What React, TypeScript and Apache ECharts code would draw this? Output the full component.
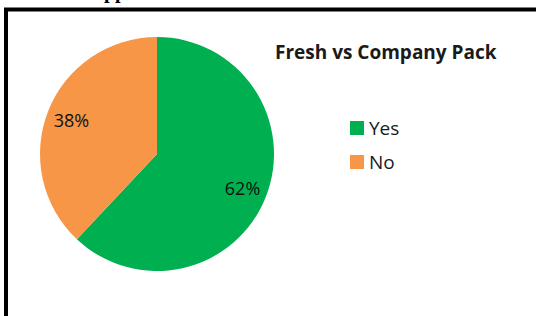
import React, { useEffect, useRef } from "react";
import * as echarts from "echarts";

const categories = ["Yes", "No"];
const values = [62, 38];
const colors = ["#00B050", "#F79646"];
const titleText = "Fresh vs Company Pack";

export default function App() {
  const ref = useRef<HTMLDivElement>(null);
  useEffect(() => {
    if (!ref.current) return;
    const chart = echarts.init(ref.current, null, { renderer: "svg" });
    const data = categories.map((name, i) => ({ name, value: values[i], itemStyle: { color: colors[i] } }));
    chart.setOption({
      animation: false,
      backgroundColor: "#ffffff",
      title: {
        text: titleText,
        left: 270,
        top: 37,
        textStyle: { fontFamily: "Open Sans", fontSize: 19, fontWeight: "bold", color: "#1a1a1a" },
      },
      legend: {
        orient: "vertical",
        left: 345,
        top: 113,
        icon: "rect",
        itemWidth: 14,
        itemHeight: 14,
        itemGap: 14,
        data: categories,
        textStyle: { fontFamily: "Open Sans", fontSize: 19, lineHeight: 20, color: "#1a1a1a" },
      },
      graphic: [
        {
          type: "rect",
          shape: { x: 6, y: 9.5, width: 600, height: 400 },
          style: { fill: "none", stroke: "#000", lineWidth: 4 },
          silent: true,
        },
        {
          type: "text",
          x: 104,
          y: -9,
          style: { text: "pp", font: "bold 20px 'Liberation Serif'", fill: "#000", verticalAlign: "middle" },
          silent: true,
        },
      ],
      series: [
        {
          type: "pie",
          center: [157, 154],
          radius: 117,
          startAngle: 90,
          clockwise: true,
          data,
          label: { show: false },
          labelLine: { show: false },
          emphasis: { disabled: true },
        },
        {
          type: "pie",
          center: [157, 154],
          radius: 178,
          startAngle: 90,
          clockwise: true,
          silent: true,
          data: categories.map((name, i) => ({ name, value: values[i] })),
          itemStyle: { color: "rgba(0,0,0,0)" },
          label: {
            show: true,
            position: "inside",
            formatter: "{d}%",
            fontFamily: "Open Sans",
            fontSize: 18,
            color: "#111111",
          },
          labelLine: { show: false },
          emphasis: { disabled: true },
        },
      ],
    });
    return () => chart.dispose();
  }, []);
  return <div ref={ref} style={{ position: "fixed", left: 0, top: 0, width: 536, height: 316 }} />;
}
